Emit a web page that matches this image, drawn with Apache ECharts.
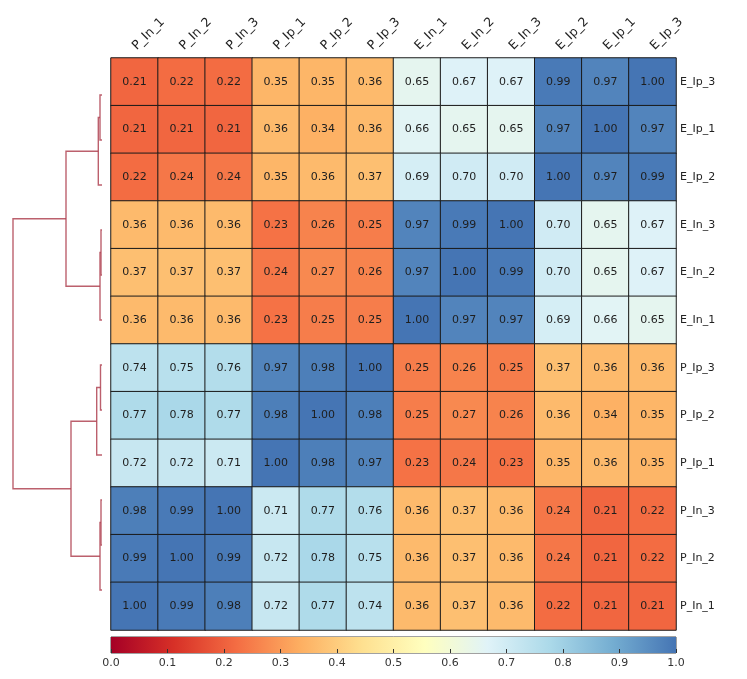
<!DOCTYPE html>
<html>
<head>
<meta charset="utf-8">
<script src="https://cdn.jsdelivr.net/npm/echarts@6/dist/echarts.min.js"></script>
<style>html,body{margin:0;padding:0;background:#fff;}#chart{width:747px;height:679px;}</style>
</head>
<body>
<div id="chart"></div>
<script>
// ---- data ----
const xCategories = ['P_In_1','P_In_2','P_In_3','P_Ip_1','P_Ip_2','P_Ip_3','E_In_1','E_In_2','E_In_3','E_Ip_2','E_Ip_1','E_Ip_3'];
const yCategories = ['E_Ip_3','E_Ip_1','E_Ip_2','E_In_3','E_In_2','E_In_1','P_Ip_3','P_Ip_2','P_Ip_1','P_In_3','P_In_2','P_In_1'];

const row_E_Ip_3 = [0.21,0.22,0.22,0.35,0.35,0.36,0.65,0.67,0.67,0.99,0.97,1.00];
const row_E_Ip_1 = [0.21,0.21,0.21,0.36,0.34,0.36,0.66,0.65,0.65,0.97,1.00,0.97];
const row_E_Ip_2 = [0.22,0.24,0.24,0.35,0.36,0.37,0.69,0.70,0.70,1.00,0.97,0.99];
const row_E_In_3 = [0.36,0.36,0.36,0.23,0.26,0.25,0.97,0.99,1.00,0.70,0.65,0.67];
const row_E_In_2 = [0.37,0.37,0.37,0.24,0.27,0.26,0.97,1.00,0.99,0.70,0.65,0.67];
const row_E_In_1 = [0.36,0.36,0.36,0.23,0.25,0.25,1.00,0.97,0.97,0.69,0.66,0.65];
const row_P_Ip_3 = [0.74,0.75,0.76,0.97,0.98,1.00,0.25,0.26,0.25,0.37,0.36,0.36];
const row_P_Ip_2 = [0.77,0.78,0.77,0.98,1.00,0.98,0.25,0.27,0.26,0.36,0.34,0.35];
const row_P_Ip_1 = [0.72,0.72,0.71,1.00,0.98,0.97,0.23,0.24,0.23,0.35,0.36,0.35];
const row_P_In_3 = [0.98,0.99,1.00,0.71,0.77,0.76,0.36,0.37,0.36,0.24,0.21,0.22];
const row_P_In_2 = [0.99,1.00,0.99,0.72,0.78,0.75,0.36,0.37,0.36,0.24,0.21,0.22];
const row_P_In_1 = [1.00,0.99,0.98,0.72,0.77,0.74,0.36,0.37,0.36,0.22,0.21,0.21];
const rows = [row_E_Ip_3,row_E_Ip_1,row_E_Ip_2,row_E_In_3,row_E_In_2,row_E_In_1,
              row_P_Ip_3,row_P_Ip_2,row_P_Ip_1,row_P_In_3,row_P_In_2,row_P_In_1];

// dendrogram links (scipy style): leaf positions (leaf i at i+0.5, top to bottom) and merge heights
const dendroIcoord = [
  [0.5,0.5,1.5,1.5],
  [1.0,1.0,2.5,2.5],
  [3.5,3.5,4.5,4.5],
  [4.0,4.0,5.5,5.5],
  [1.75,1.75,4.75,4.75],
  [6.5,6.5,7.5,7.5],
  [7.0,7.0,8.5,8.5],
  [9.5,9.5,10.5,10.5],
  [10.0,10.0,11.5,11.5],
  [7.75,7.75,10.75,10.75],
  [3.25,3.25,9.25,9.25]
];
const dendroDcoord = [
  [0,0.02,0.02,0],
  [0.02,0.037,0.037,0],
  [0,0.01,0.01,0],
  [0.01,0.02,0.02,0],
  [0.037,0.36,0.36,0.02],
  [0,0.015,0.015,0],
  [0.015,0.053,0.053,0],
  [0,0.01,0.01,0],
  [0.01,0.02,0.02,0],
  [0.053,0.31,0.31,0.02],
  [0.36,0.89,0.89,0.31]
];

// colour bar range
const colorbarRange = [0, 1];
const palette = ['#a50026','#d73027','#f46d43','#fdae61','#fee090','#ffffbf','#e0f3f8','#abd9e9','#74add1','#4575b4'];

// ---- build ----
const heatData = [];
rows.forEach((r, yi) => r.forEach((v, xi) => heatData.push([xi, yi, v])));

const dendroData = dendroIcoord.map((ic, k) => ({
  coords: ic.map((y, j) => [dendroDcoord[k][j], y])
}));

const FONT = 'DejaVu Sans';
const chart = echarts.init(document.getElementById('chart'), null, {renderer: 'canvas'});
chart.setOption({
  backgroundColor: '#fff',
  animation: false,
  grid: [
    {left: 111, top: 58, width: 565, height: 572, containLabel: false},
    {left: 13, top: 72.5, width: 89, height: 540},
    {left: 111, top: 637, width: 565, height: 16, show: true, borderColor: '#444', borderWidth: 1, backgroundColor: 'transparent'}
  ],
  xAxis: [
    {type: 'category', gridIndex: 0, data: xCategories, position: 'top',
     axisLine: {show: false}, axisTick: {show: false}, splitLine: {show: false},
     axisLabel: {rotate: -45, margin: 10, fontFamily: FONT, fontSize: 12.5, color: '#222', interval: 0}},
    {type: 'value', gridIndex: 1, min: 0, max: 0.89, inverse: true, show: false},
    {type: 'value', gridIndex: 2, min: colorbarRange[0], max: colorbarRange[1], interval: 0.1, position: 'bottom',
     axisLine: {show: false}, splitLine: {show: false},
     axisTick: {show: true, inside: true, length: 4, lineStyle: {color: '#333', width: 1}},
     axisLabel: {margin: 5, fontFamily: FONT, fontSize: 11, color: '#333', formatter: v => v.toFixed(1)}}
  ],
  yAxis: [
    {type: 'category', gridIndex: 0, data: yCategories, inverse: true, position: 'right',
     axisLine: {show: false}, axisTick: {show: false}, splitLine: {show: false},
     axisLabel: {margin: 4, fontFamily: FONT, fontSize: 11, color: '#222', interval: 0}},
    {type: 'value', gridIndex: 1, min: 0, max: 12, inverse: true, show: false},
    {type: 'value', gridIndex: 2, min: 0, max: 1, show: false}
  ],
  visualMap: {
    show: false, type: 'continuous', seriesIndex: 0, dimension: 2,
    min: colorbarRange[0], max: colorbarRange[1], inRange: {color: palette}
  },
  series: [
    {
      type: 'heatmap', xAxisIndex: 0, yAxisIndex: 0, data: heatData,
      itemStyle: {borderColor: '#1a1a1a', borderWidth: 1},
      label: {show: true, fontFamily: FONT, fontSize: 11, color: '#1e1e1e',
              formatter: p => p.value[2].toFixed(2)},
      emphasis: {disabled: true}
    },
    {
      type: 'lines', coordinateSystem: 'cartesian2d', xAxisIndex: 1, yAxisIndex: 1,
      polyline: true, data: dendroData, silent: true,
      lineStyle: {color: '#b04453', width: 1.4, opacity: 0.85}
    },
    {
      type: 'custom', xAxisIndex: 2, yAxisIndex: 2, silent: true,
      data: [[colorbarRange[0], colorbarRange[1]]],
      renderItem: function (params, api) {
        const p0 = api.coord([api.value(0), 0]);
        const p1 = api.coord([api.value(1), 1]);
        const stops = palette.map((c, i) => ({offset: i / (palette.length - 1), color: c}));
        return {
          type: 'rect',
          shape: {x: p0[0], y: p1[1], width: p1[0] - p0[0], height: p0[1] - p1[1]},
          style: {fill: new echarts.graphic.LinearGradient(0, 0, 1, 0, stops)},
          z2: -1
        };
      },
      z: 0
    }
  ]
});
</script>
</body>
</html>
